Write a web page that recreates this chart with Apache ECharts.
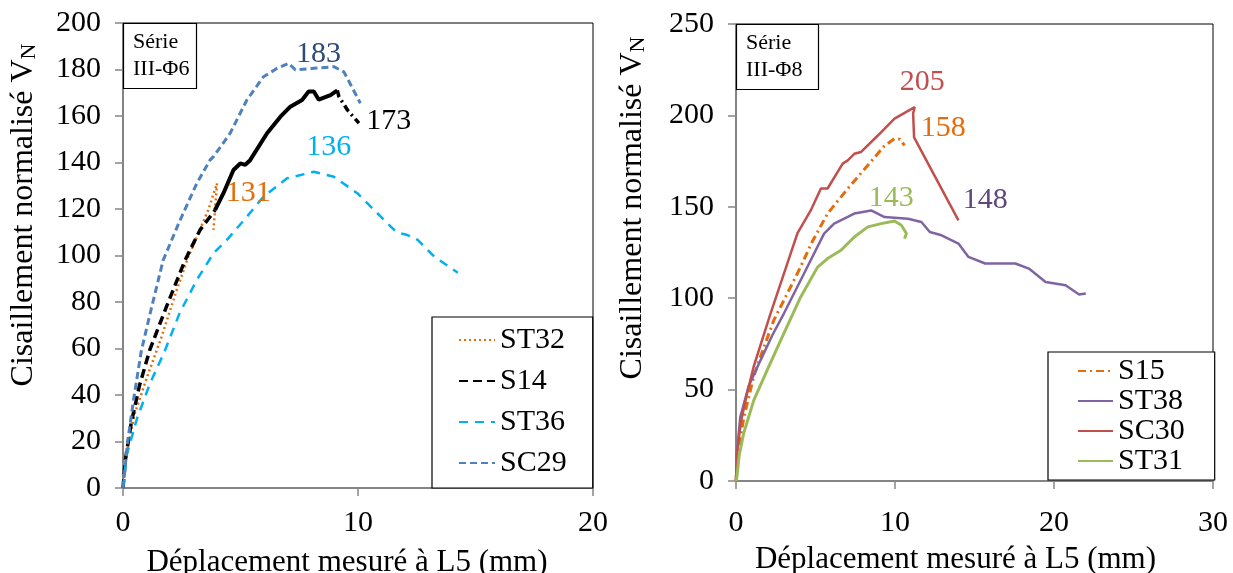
<!DOCTYPE html>
<html><head><meta charset="utf-8">
<script src="https://cdn.jsdelivr.net/npm/echarts@6/dist/echarts.min.js"></script>
<style>html,body{margin:0;padding:0;background:#fff}#c{width:1233px;height:573px}</style>
</head><body><div id="c"></div>
<script>
// ---- Data (left: Série III-Φ6) ----
const leftNames = ['ST32', 'S14', 'ST36', 'SC29'];
const st32 = [[0,0],[0.15,15],[0.5,32],[1.0,47],[1.64,65],[2.28,85],[2.78,99.5],[3.14,108],[3.63,119.6],[4.0,131],[3.85,111]];
const s14 = [[0,0],[0.1,12],[0.35,28],[0.7,44],[1.14,59.4],[1.85,78],[2.64,98],[3.28,111],[3.92,119.6],[4.27,126.7],[4.7,136.8],[4.99,139.6],[5.2,139],[5.41,141],[6.13,152.6],[6.7,159.7],[7.12,164],[7.62,166.9],[7.9,170.5],[8.12,170.5],[8.33,167],[8.83,169],[9.12,171],[9.19,168.3],[9.55,162.6],[10.04,156.9]];
const st36 = [[0,0],[0.15,14],[0.6,30],[1.15,45],[1.78,59],[2.4,75],[3.14,89.5],[3.85,101],[4.42,106.7],[5.13,115],[5.98,125.3],[6.98,133.2],[8.12,136],[8.97,133.9],[9.97,126.8],[10.97,116.7],[11.54,111],[11.82,109.5],[12.1,108.8],[12.54,106.7],[13.25,99.5],[14.25,92.6]];
const sc29 = [[0,0],[0.2,20],[0.45,38],[0.78,59],[1.2,77],[1.71,98],[2.42,115],[3.14,131],[3.7,141],[3.85,142.5],[4.56,152.6],[5.27,166.9],[5.98,176.9],[6.56,180.5],[7.05,182.7],[7.34,179.8],[8.12,180.5],[8.97,181.2],[9.4,179],[10.1,165.5]];
const leftPeaks = ['131', '173', '136', '183'];

// ---- Data (right: Série III-Φ8) ----
const rightNames = ['S15', 'ST38', 'SC30', 'ST31'];
const s15 = [[0,0],[0.15,18],[0.5,35],[1.11,57],[1.54,68],[2.38,88],[3.23,102.6],[4.0,116],[4.8,131],[5.76,146.3],[7.03,160],[8.29,172.7],[9.3,183],[9.97,187.3],[10.3,187],[10.6,183.6]];
const st38 = [[0,0],[0.05,15],[0.27,35],[0.8,52],[1.54,66],[2.3,80],[3.01,91.6],[4.28,113.5],[5.54,135.3],[6.17,140.8],[7.44,146.3],[8.5,148],[9.34,144.4],[10.82,143.5],[11.66,141.7],[12.19,136.2],[12.93,134.4],[13.99,129.9],[14.62,122.6],[15.67,119],[17.57,119],[18.42,116.2],[19.47,108.9],[20.73,107.1],[21.58,102],[22,102.6]];
const sc30 = [[0,0],[0.05,14],[0.3,32],[0.7,48],[1.11,62.5],[2.17,91.6],[3.23,119],[3.86,135.4],[4.7,148],[5.34,160],[5.76,160],[6.71,173.6],[7.03,175.4],[7.44,179],[7.87,180],[8.92,189],[9.97,198.2],[11.24,204.5],[11.14,201],[11.2,188],[13.99,142.6]];
const st31 = [[0,0],[0.06,2.3],[0.2,14],[0.48,26],[1.11,44],[1.96,60.6],[3.01,80.7],[4.07,100.7],[5.13,117],[5.76,121.7],[6.6,126.2],[7.44,133.5],[8.29,139],[9.13,140.8],[9.97,142.2],[10.4,139.9],[10.72,135.4],[10.6,132.6]];
const rightPeaks = ['158', '148', '205', '143'];

const FONT = 'Liberation Serif';
const AXIS_GRAY = '#868686';

function peak(coord, text, color) {
  return {
    symbol: 'circle', symbolSize: 0, silent: true,
    data: [{ coord: coord, value: text }],
    label: { show: true, position: 'inside', formatter: '{c}', color: color, fontFamily: FONT, fontSize: 30 }
  };
}

function line(name, data, color, type, width, gi, mp) {
  const s = {
    name: name, type: 'line', data: data, xAxisIndex: gi, yAxisIndex: gi,
    symbol: 'circle', symbolSize: 0, showSymbol: false, smooth: false, z: 3,
    lineStyle: { color: color, width: width, type: type, cap: 'butt' },
    itemStyle: { color: color }
  };
  if (mp) s.markPoint = mp;
  return s;
}

function xAxis(gi, max, gap, pad, margin) {
  return {
    type: 'value', gridIndex: gi, min: 0, max: max, interval: 10,
    name: 'Déplacement mesuré à L5 (mm)', nameLocation: 'middle', nameGap: gap,
    nameTextStyle: { fontFamily: FONT, fontSize: 31, color: '#000', lineHeight: 31, padding: pad },
    axisLine: { show: true, onZero: false, lineStyle: { color: AXIS_GRAY, width: 1.5 } },
    axisTick: { show: true, inside: false, length: 8, lineStyle: { color: AXIS_GRAY, width: 1.5 } },
    axisLabel: { margin: margin, fontFamily: FONT, fontSize: 30, color: '#000' },
    splitLine: { show: false }
  };
}
function yAxis(gi, max, interval, gap, pad) {
  return {
    type: 'value', gridIndex: gi, min: 0, max: max, interval: interval,
    name: 'Cisaillement normalisé V{sub|N}', nameLocation: 'middle', nameGap: gap,
    nameTextStyle: { fontFamily: FONT, fontSize: 32, color: '#000', padding: pad,
      rich: { sub: { fontFamily: FONT, fontSize: 22, color: '#000', verticalAlign: 'bottom', padding: [3, 0, 0, 0] } } },
    axisLine: { show: true, onZero: false, lineStyle: { color: AXIS_GRAY, width: 1.5 } },
    axisTick: { show: true, inside: false, length: 8, lineStyle: { color: AXIS_GRAY, width: 1.5 } },
    axisLabel: { margin: 22, fontFamily: FONT, fontSize: 30, color: '#000' },
    splitLine: { show: false }
  };
}

const legendBase = {
  orient: 'vertical', backgroundColor: '#fff', borderColor: '#000', borderWidth: 1.2,
  itemGap: 11, itemWidth: 36, itemHeight: 14, align: 'left',
  itemStyle: { opacity: 0 },
  textStyle: { fontFamily: FONT, fontSize: 30, color: '#000', lineHeight: 30 }
};

const series = [
  line(leftNames[0], st32, '#E46C0A', [2, 3], 2.5, 0, peak([5.33, 126.9], leftPeaks[0], '#E46C0A')),
  line(leftNames[1], s14.slice(0, 9), '#000000', [9, 5], 3.5, 0),
  line('S14-mid', s14.slice(8, 23), '#000000', 'solid', 4, 0),
  line('S14-end', s14.slice(22), '#000000', [7, 4, 2, 4], 3.5, 0, peak([11.31, 157.8], leftPeaks[1], '#000000')),
  line(leftNames[2], st36, '#00B0F0', [9, 7], 2.5, 0, peak([8.75, 146.7], leftPeaks[2], '#00B0F0')),
  line(leftNames[3], sc29, '#4F81BD', [7, 4], 3, 0, peak([8.32, 186.8], leftPeaks[3], '#2E4A78')),
  line(rightNames[0], s15, '#E46C0A', [8, 4, 2, 4], 3, 1, peak([13.04, 193.1], rightPeaks[0], '#E46C0A')),
  line(rightNames[1], st38, '#8064A2', 'solid', 2.5, 1, peak([15.68, 153.7], rightPeaks[1], '#60497A')),
  line(rightNames[2], sc30, '#C0504D', 'solid', 2.5, 1, peak([11.72, 218.3], rightPeaks[2], '#C0504D')),
  line(rightNames[3], st31, '#9BBB59', 'solid', 3, 1, peak([9.77, 154.8], rightPeaks[3], '#9BBB59'))
];

const option = {
  animation: false,
  backgroundColor: '#fff',
  title: [
    { text: 'Série\nIII-Φ6', left: 123, top: 23, padding: [6, 7, 6, 10], borderColor: '#000', borderWidth: 1.2, backgroundColor: '#fff',
      textStyle: { fontFamily: FONT, fontSize: 22, fontWeight: 'normal', lineHeight: 27, color: '#000' } },
    { text: 'Série\nIII-Φ8', left: 736, top: 24, padding: [6, 16, 6, 10], borderColor: '#000', borderWidth: 1.2, backgroundColor: '#fff',
      textStyle: { fontFamily: FONT, fontSize: 22, fontWeight: 'normal', lineHeight: 27, color: '#000' } }
  ],
  legend: [
    Object.assign({}, legendBase, { data: leftNames, left: 432, top: 317, padding: [8, 26, 10, 26] }),
    Object.assign({}, legendBase, { data: rightNames, left: 1048, top: 352, padding: [4, 30, 4, 29], itemGap: 0, itemWidth: 35 })
  ],
  grid: [
    { left: 123, top: 23, width: 470, height: 465, outerBoundsMode: 'none', containLabel: false, show: true, borderColor: '#000', borderWidth: 1, backgroundColor: 'transparent' },
    { left: 736, top: 24, width: 477, height: 457, outerBoundsMode: 'none', containLabel: false, show: true, borderColor: '#000', borderWidth: 1, backgroundColor: 'transparent' }
  ],
  xAxis: [ xAxis(0, 20, 59, [0, 22, 0, 0], 20), xAxis(1, 30, 63, [0, 38, 0, 0], 27) ],
  yAxis: [ yAxis(0, 200, 20, 83, [0, 0, 0, 81]), yAxis(1, 250, 50, 87, [0, 0, 0, 89]) ],
  series: series
};

const chart = echarts.init(document.getElementById('c'), null, { renderer: 'canvas' });
chart.setOption(option);
</script>
</body></html>
